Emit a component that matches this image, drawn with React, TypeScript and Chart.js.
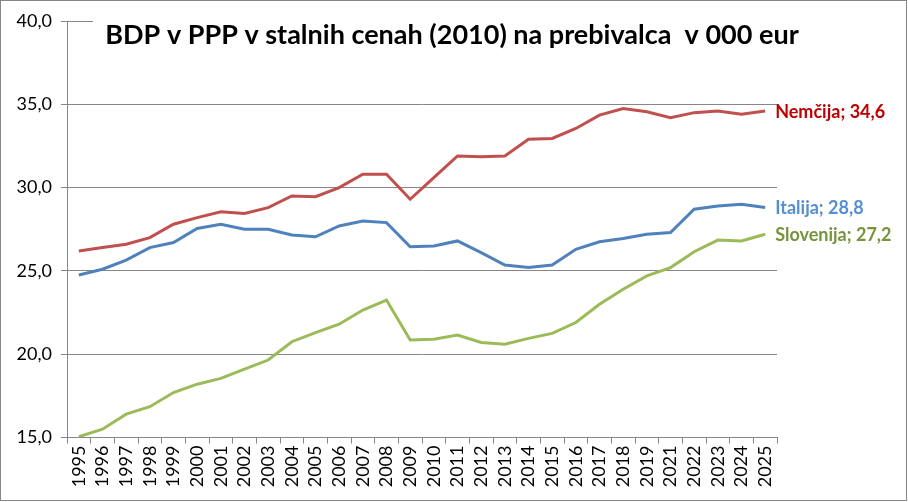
import { useEffect, useRef } from 'react';
import { Chart, registerables } from 'chart.js';
import type { Plugin } from 'chart.js';

Chart.register(...registerables);

// years on the axis (2020 is not in the source table)
const years = [
    '1995', '1996', '1997', '1998', '1999', '2000', '2001', '2002', '2003', '2004',
    '2005', '2006', '2007', '2008', '2009', '2010', '2011', '2012', '2013', '2014',
    '2015', '2016', '2017', '2018', '2019', '2021', '2022', '2023', '2024', '2025',
];

const nemcija = [
    26.2, 26.4, 26.6, 27.0, 27.8, 28.2, 28.55, 28.45, 28.8, 29.5,
    29.45, 30.0, 30.8, 30.8, 29.3, 30.6, 31.9, 31.85, 31.9, 32.9,
    32.95, 33.55, 34.35, 34.75, 34.55, 34.2, 34.5, 34.6, 34.4, 34.6,
];

const italija = [
    24.75, 25.1, 25.65, 26.4, 26.7, 27.55, 27.8, 27.5, 27.5, 27.15,
    27.05, 27.7, 28.0, 27.9, 26.45, 26.5, 26.8, 26.1, 25.35, 25.2,
    25.35, 26.3, 26.75, 26.95, 27.2, 27.3, 28.7, 28.9, 29.0, 28.8,
];

const slovenija = [
    15.05, 15.5, 16.4, 16.85, 17.7, 18.2, 18.55, 19.1, 19.65, 20.75,
    21.3, 21.8, 22.65, 23.25, 20.85, 20.9, 21.15, 20.7, 20.6, 20.95,
    21.25, 21.9, 23.0, 23.9, 24.7, 25.2, 26.15, 26.85, 26.8, 27.2,
];

const seriesNames = ['Nemčija', 'Italija', 'Slovenija'];
const lineColors = ['#C0504D', '#4F81BD', '#9BBB59'];
const labelColors = ['#C00000', '#558ED5', '#77933C'];

const chartTitle = 'BDP v PPP v stalnih cenah (2010) na prebivalca  v 000 eur';

const fmt = (v: number) => v.toFixed(1).replace('.', ',');

// white page + thin grey frame round the whole picture
const framePlugin: Plugin<'line'> = {
    id: 'frame',
    beforeDraw(chart) {
        const { ctx, width, height } = chart;
        ctx.save();
        ctx.fillStyle = '#ffffff';
        ctx.fillRect(0, 0, width, height);
        ctx.strokeStyle = '#868686';
        ctx.lineWidth = 1;
        ctx.strokeRect(0.5, 0.5, width - 2, height - 2);
        ctx.restore();
    },
};

// title sits on top of the plot, on a white box (hides the top grid line)
const titlePlugin: Plugin<'line'> = {
    id: 'boxTitle',
    afterDraw(chart) {
        const { ctx } = chart;
        ctx.save();
        ctx.fillStyle = '#ffffff';
        ctx.fillRect(93, 6, 730, 50);
        ctx.fillStyle = '#000000';
        ctx.font = 'bold 27px Lato';
        ctx.textAlign = 'center';
        ctx.textBaseline = 'middle';
        ctx.fillText(chartTitle, 452, 35);
        ctx.restore();
    },
};

// "name; value" labels to the right of each last point
const endLabelPlugin: Plugin<'line'> = {
    id: 'endLabels',
    afterDatasetsDraw(chart) {
        const { ctx } = chart;
        ctx.save();
        ctx.font = 'bold 18px Lato';
        ctx.textAlign = 'left';
        ctx.textBaseline = 'middle';
        chart.data.datasets.forEach((ds, i) => {
            const meta = chart.getDatasetMeta(i);
            const last = meta.data[meta.data.length - 1];
            const val = ds.data[ds.data.length - 1] as number;
            ctx.fillStyle = labelColors[i];
            ctx.fillText(`${seriesNames[i]}; ${fmt(val)}`, last.x + 10, last.y + 1);
        });
        ctx.restore();
    },
};

const GdpChart = () => {
    const chartRef = useRef<HTMLCanvasElement | null>(null);

    useEffect(() => {
        document.body.style.margin = '0';
        const ctx = chartRef.current?.getContext('2d');
        if (!ctx) return;

        const chartInstance = new Chart(ctx, {
            type: 'line',
            data: {
                labels: years,
                datasets: [nemcija, italija, slovenija].map((values, i) => ({
                    label: seriesNames[i],
                    data: values,
                    borderColor: lineColors[i],
                    backgroundColor: lineColors[i],
                    borderWidth: 3,
                    pointRadius: 0,
                    tension: 0,
                })),
            },
            options: {
                animation: false,
                responsive: true,
                maintainAspectRatio: false,
                layout: { padding: { left: 0, right: 131, top: 21, bottom: 0 } },
                plugins: {
                    legend: { display: false },
                    title: { display: false },
                    tooltip: { enabled: false },
                },
                scales: {
                    x: {
                        offset: true,
                        grid: {
                            offset: true,
                            drawOnChartArea: false,
                            drawTicks: true,
                            tickLength: 6,
                            color: '#868686',
                        },
                        border: { color: '#868686' },
                        ticks: {
                            autoSkip: false,
                            maxRotation: 90,
                            minRotation: 90,
                            padding: 2,
                            color: '#000000',
                            font: { family: 'Lato', size: 18 },
                        },
                        afterFit: (scale) => {
                            scale.height = 64.5;
                        },
                    },
                    y: {
                        min: 15,
                        max: 40,
                        ticks: {
                            stepSize: 5,
                            padding: 9,
                            color: '#000000',
                            font: { family: 'Lato', size: 18 },
                            callback: (v) => fmt(Number(v)),
                        },
                        grid: { color: '#868686', tickLength: 6 },
                        border: { color: '#868686' },
                        afterFit: (scale) => {
                            scale.width = 67;
                        },
                    },
                },
            },
            plugins: [framePlugin, titlePlugin, endLabelPlugin],
        });

        return () => {
            chartInstance.destroy();
        };
    }, []);

    return (
        <div style={{ width: '908px', height: '502px', position: 'relative' }}>
            <canvas ref={chartRef}></canvas>
        </div>
    );
};

export default function App() {
    return <GdpChart />;
}
